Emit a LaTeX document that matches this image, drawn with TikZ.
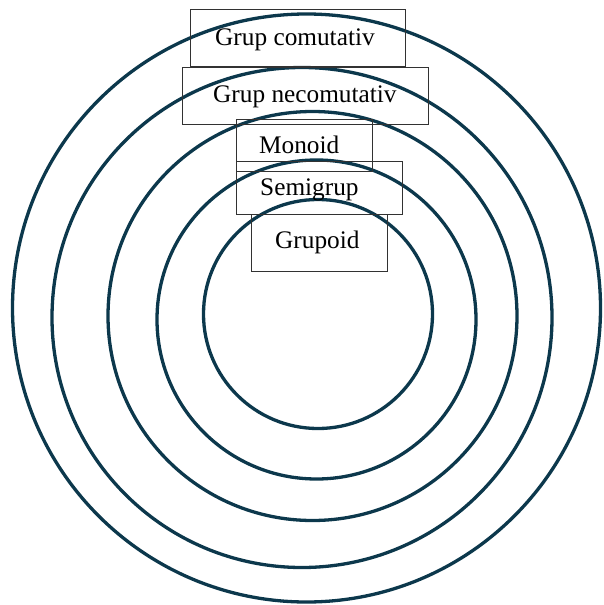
\documentclass[tikz,border=0pt]{standalone}
\usepackage{fontspec}
\setmainfont{Liberation Serif}
\definecolor{ringcol}{RGB}{12,56,76}
\definecolor{boxcol}{RGB}{50,50,50}
\begin{document}
\begin{tikzpicture}[x=1pt,y=-1pt,
  ring/.style={circle,draw=ringcol,line width=3.3pt,inner sep=0pt,outer sep=0pt},
  frame/.style={rectangle,draw=boxcol,line width=1.2pt,inner sep=0pt,anchor=north west},
  lbl/.style={inner sep=0pt,anchor=base west,font=\fontsize{25.3}{30}\selectfont}]
\useasboundingbox (0,0) rectangle (603,605);
% rings
\node[ring,minimum size=588pt] (c1) at (306.5,308) {};
\node[ring,minimum size=500pt] (c2) at (302,317.5) {};
\node[ring,minimum size=409pt] (c3) at (312.5,316) {};
\node[ring,minimum size=319pt] (c4) at (316.5,319.5) {};
\node[ring,minimum size=229pt] (c5) at (318,314) {};
% boxes
\node[frame,minimum width=215pt,minimum height=57pt] (b1) at (190,9) {};
\node[frame,minimum width=246pt,minimum height=57pt] (b2) at (182,67) {};
\node[frame,minimum width=136pt,minimum height=52pt] (b3) at (236,119) {};
\node[frame,minimum width=166pt,minimum height=53pt] (b4) at (236,161) {};
\node[frame,minimum width=136pt,minimum height=57pt] (b5) at (251,214) {};
% labels
\node[lbl] (t1) at ([shift={(25,36)}]b1.north west) {Grup comutativ};
\node[lbl] (t2) at ([shift={(31,35)}]b2.north west) {Grup necomutativ};
\node[lbl] (t3) at ([shift={(23,34)}]b3.north west) {Monoid};
\node[lbl] (t4) at ([shift={(24,34)}]b4.north west) {Semigrup};
\node[lbl] (t5) at ([shift={(24,34)}]b5.north west) {Grupoid};
\end{tikzpicture}
\end{document}
